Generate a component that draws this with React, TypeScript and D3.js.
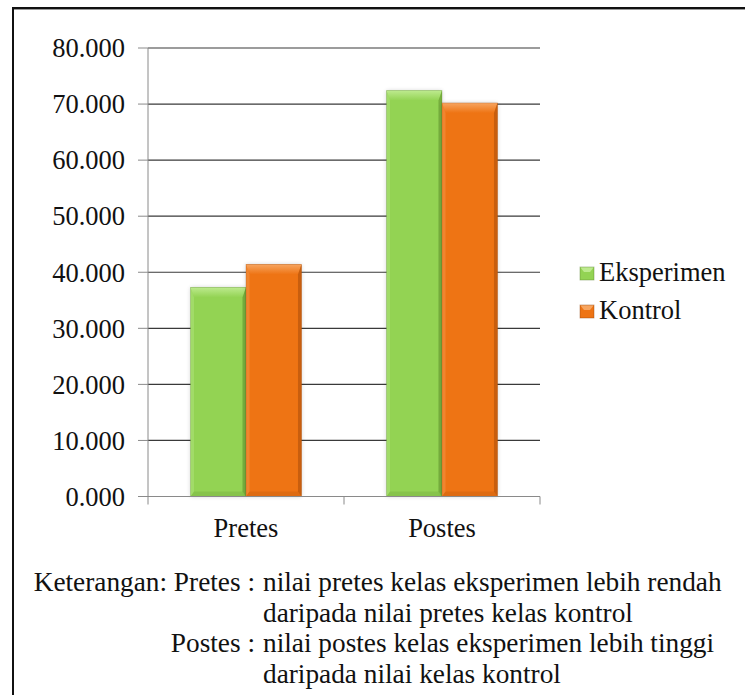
import React from "react";
import * as d3 from "d3";

const categories = ["Pretes", "Postes"];
const seriesNames = ["Eksperimen", "Kontrol"];
const eksperimen = [37.3, 72.4];
const kontrol = [41.4, 70.2];
const yTicks = [0, 10, 20, 30, 40, 50, 60, 70, 80];
const captionLines = [
  { label: "Keterangan: Pretes :", text: "nilai pretes kelas eksperimen lebih rendah" },
  { label: "", text: "daripada nilai pretes kelas kontrol" },
  { label: "Postes :", text: "nilai postes kelas eksperimen lebih tinggi" },
  { label: "", text: "daripada nilai kelas kontrol" },
];

const W = 745, H = 695;
const FONT = "'Liberation Serif', 'Times New Roman', serif";
const palette = {
  Eksperimen: { base: "#93d353", light: "#bdea8e", dark: "#6b9f36", darker: "#557f2a" },
  Kontrol: { base: "#ee7414", light: "#f7a560", dark: "#b8560c", darker: "#8f420a" },
};

export default function App() {
  const left = 148, right = 540, top = 48, bottom = 496.5;
  const y = d3.scaleLinear().domain([0, 80]).range([bottom, top]);
  const x0 = d3.scaleBand<string>().domain(categories).range([left, right]).padding(0);
  const bw = x0.bandwidth();
  const x1 = d3.scaleBand<string>().domain(seriesNames).range([bw * 0.217, bw * 0.783]).padding(0);
  const values: Record<string, number[]> = { Eksperimen: eksperimen, Kontrol: kontrol };
  const fmt = d3.format(".3f");

  const bars: JSX.Element[] = [];
  seriesNames.forEach((s) => {
    const c = (palette as any)[s];
    categories.forEach((cat, i) => {
      const v = values[s][i];
      const bx = (x0(cat) as number) + (x1(s) as number);
      const w = x1.bandwidth();
      const by = y(v);
      const h = bottom - by;
      const bev = 10, side = 3.5, bb = 5;
      bars.push(
        <g key={s + cat}>
          <rect x={bx} y={by} width={w} height={h} fill="#000" opacity={0.18} filter="url(#shadow)" />
          <rect x={bx} y={by} width={w} height={h} fill={c.base} />
          <polygon points={`${bx},${by} ${bx + w},${by} ${bx + w - side},${by + bev} ${bx + side},${by + bev}`} fill={`url(#top-${s})`} />
          <polygon points={`${bx + w},${by} ${bx + w},${bottom} ${bx + w - side},${bottom - bb} ${bx + w - side},${by + bev}`} fill={c.dark} opacity={0.7} />
          <polygon points={`${bx},${by} ${bx + side},${by + bev} ${bx + side},${bottom - bb} ${bx},${bottom}`} fill={c.light} opacity={0.35} />
          <polygon points={`${bx},${bottom} ${bx + side},${bottom - bb} ${bx + w - side},${bottom - bb} ${bx + w},${bottom}`} fill={c.dark} opacity={0.3} />
          <rect x={bx} y={by} width={w} height={h} fill="none" stroke={c.darker} strokeOpacity={0.3} strokeWidth={0.8} />
        </g>
      );
    });
  });

  const legendX = 580;
  const legendY = [281, 319];

  return (
    <svg width={W} height={H} style={{ position: "absolute", left: 0, top: 0, background: "#fff" }} fontFamily={FONT}>
      <defs>
        <filter id="shadow" x="-20%" y="-5%" width="140%" height="110%">
          <feGaussianBlur stdDeviation="2" />
        </filter>
        {seriesNames.map((s) => {
          const c = (palette as any)[s];
          return (
            <linearGradient key={s} id={`top-${s}`} x1="0" y1="0" x2="0" y2="1">
              <stop offset="0%" stopColor={c.light} />
              <stop offset="100%" stopColor={c.base} />
            </linearGradient>
          );
        })}
      </defs>
      <rect x={0} y={0} width={W} height={H} fill="#fff" />
      {/* outer frame */}
      <line x1={12} y1={8} x2={W + 5} y2={8} stroke="#111" strokeWidth={2} />
      <line x1={12} y1={9.5} x2={W + 5} y2={9.5} stroke="#999" strokeWidth={1} />
      <line x1={13} y1={7} x2={13} y2={H + 5} stroke="#111" strokeWidth={2} />
      {/* gridlines */}
      {yTicks.map((t) => (
        <g key={t}>
          {t > 0 && <line x1={left} x2={right} y1={y(t)} y2={y(t)} stroke="#3a3a3a" strokeWidth={1.2} />}
          <line x1={left - 10} x2={left} y1={y(t)} y2={y(t)} stroke="#8a8a8a" strokeWidth={1} />
          <text x={125} y={y(t)} dy="0.35em" textAnchor="end" fontSize={26.5} fill="#111">{fmt(t)}</text>
        </g>
      ))}
      {/* axes */}
      <line x1={left} x2={left} y1={top} y2={bottom} stroke="#8a8a8a" strokeWidth={1} />
      {bars}
      <line x1={left} x2={right} y1={bottom} y2={bottom} stroke="#8a8a8a" strokeWidth={1} />
      {[left, left + bw, right].map((xx, i) => (
        <line key={i} x1={xx} x2={xx} y1={bottom} y2={bottom + 8} stroke="#8a8a8a" strokeWidth={1} />
      ))}
      {categories.map((cat) => (
        <text key={cat} x={(x0(cat) as number) + bw / 2} y={537} textAnchor="middle" fontSize={26.5} fill="#111">{cat}</text>
      ))}
      {/* legend */}
      {seriesNames.map((s, i) => {
        const c = (palette as any)[s];
        return (
          <g key={s}>
            <rect x={legendX} y={legendY[i] - 14} width={14} height={13} fill={c.base} />
            <polygon points={`${legendX},${legendY[i] - 14} ${legendX + 14},${legendY[i] - 14} ${legendX + 10},${legendY[i] - 9} ${legendX + 4},${legendY[i] - 9}`} fill={c.light} />
            <rect x={legendX} y={legendY[i] - 14} width={14} height={13} fill="none" stroke={c.darker} strokeOpacity={0.5} strokeWidth={0.8} />
            <text x={legendX + 19} y={legendY[i]} fontSize={26.5} fill="#111">{s}</text>
          </g>
        );
      })}
      {/* caption */}
      {captionLines.map((l, i) => (
        <g key={i}>
          {l.label && <text x={255} y={591 + i * 30.5} textAnchor="end" fontSize={27.3} fill="#111">{l.label}</text>}
          <text x={263} y={591 + i * 30.5} fontSize={27.3} fill="#111">{l.text}</text>
        </g>
      ))}
    </svg>
  );
}
